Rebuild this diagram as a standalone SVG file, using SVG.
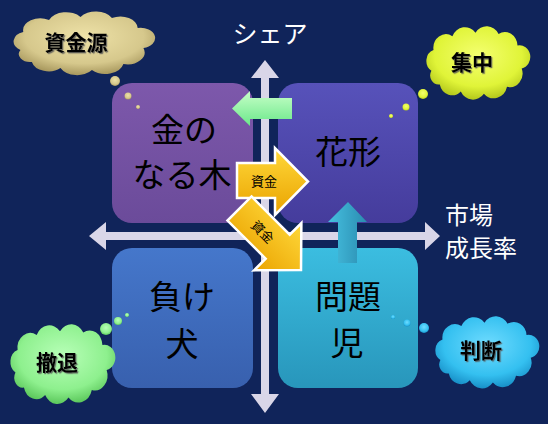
<svg xmlns="http://www.w3.org/2000/svg" width="548" height="424" viewBox="0 0 548 424">
<style>
.lbl{font-family:"Noto Sans CJK JP","Noto Sans",sans-serif;font-size:33px;fill:#000;text-anchor:middle}
.cl{font-family:"Noto Sans CJK JP","Noto Sans",sans-serif;font-size:21px;font-weight:bold;fill:#000;text-anchor:middle;filter:url(#ts)}
.ax{font-family:"Noto Sans CJK JP","Noto Sans",sans-serif;fill:#fff}
.gl{font-family:"Noto Sans CJK JP","Noto Sans",sans-serif;font-size:13px;fill:#000;text-anchor:middle}
.axis{fill:#d9d6e8}
.gold{fill:url(#gGold);stroke:#fff;stroke-width:2.5;stroke-linejoin:miter}
</style>
<defs>
<filter id="ts" x="-10%" y="-10%" width="130%" height="130%"><feDropShadow dx="1.2" dy="1.2" stdDeviation="0.6" flood-color="#555" flood-opacity="0.8"/></filter>
<path id="cloud" d="M8,38 A10,10 0 0 1 10,20 A12,12 0 0 1 28,8 A13,13 0 0 1 50,5 A13,13 0 0 1 72,6 A12,12 0 0 1 90,16 A10,10 0 0 1 94,36 A12,12 0 0 1 80,52 A13,13 0 0 1 58,58 A13,13 0 0 1 36,56 A12,12 0 0 1 16,50 A8,8 0 0 1 8,38 Z"/>
<linearGradient id="gTL" x1="0" y1="0" x2="0" y2="1"><stop offset="0" stop-color="#7d58ab"/><stop offset="1" stop-color="#6b4b9a"/></linearGradient>
<linearGradient id="gTR" x1="0" y1="0" x2="0" y2="1"><stop offset="0" stop-color="#5752ba"/><stop offset="1" stop-color="#453c9c"/></linearGradient>
<linearGradient id="gBL" x1="0" y1="0" x2="0" y2="1"><stop offset="0" stop-color="#4577cb"/><stop offset="1" stop-color="#3860ae"/></linearGradient>
<linearGradient id="gBR" x1="0" y1="0" x2="0" y2="1"><stop offset="0" stop-color="#3bbde0"/><stop offset="1" stop-color="#2896bb"/></linearGradient>
<linearGradient id="gGold" x1="0" y1="0" x2="0" y2="1"><stop offset="0" stop-color="#ffd83a"/><stop offset="1" stop-color="#eaa300"/></linearGradient>
<linearGradient id="gGreen" x1="0" y1="0" x2="0" y2="1"><stop offset="0" stop-color="#c8ffc8"/><stop offset="1" stop-color="#6ae88a"/></linearGradient>
<linearGradient id="gTeal" x1="0" y1="0" x2="1" y2="0"><stop offset="0" stop-color="#46c0e0"/><stop offset="1" stop-color="#2a8cb0"/></linearGradient>
<radialGradient id="cBeige" cx="0.5" cy="0.4" r="0.6"><stop offset="0" stop-color="#eee2a8"/><stop offset="0.7" stop-color="#d6c88c"/><stop offset="1" stop-color="#a8985e"/></radialGradient>
<radialGradient id="cYellow" cx="0.5" cy="0.4" r="0.6"><stop offset="0" stop-color="#f4ff70"/><stop offset="0.7" stop-color="#e0f438"/><stop offset="1" stop-color="#b4c81c"/></radialGradient>
<radialGradient id="cGreen" cx="0.5" cy="0.4" r="0.6"><stop offset="0" stop-color="#b8ffb8"/><stop offset="0.7" stop-color="#8ef08e"/><stop offset="1" stop-color="#5cc85c"/></radialGradient>
<radialGradient id="cCyan" cx="0.5" cy="0.4" r="0.6"><stop offset="0" stop-color="#70dcff"/><stop offset="0.7" stop-color="#34c0f0"/><stop offset="1" stop-color="#1890c8"/></radialGradient>
</defs>
<rect width="548" height="424" fill="#10245a"/>

<g id="axes">
<path class="axis" d="M265,60 L279,78 H269 V394 H279 L265,413 L251,394 H261 V78 H251 Z"/>
<path class="axis" d="M89,236 L106,222 V232 H425 V222 L440,236 L425,250 V240 H106 V250 Z"/>
<text class="ax" x="270" y="43" font-size="25" text-anchor="middle">シェア</text>
<text class="ax" x="445" y="224" font-size="24">市場</text>
<text class="ax" x="445" y="257" font-size="24">成長率</text>
</g>

<g id="node-cash-cow">
<rect x="112" y="83" width="141" height="140" rx="20" fill="url(#gTL)"/>
<text class="lbl" x="184" y="142">金の</text>
<text class="lbl" x="182" y="187">なる木</text>
</g>
<g id="node-star">
<rect x="278" y="83" width="140" height="140" rx="20" fill="url(#gTR)"/>
<text class="lbl" x="348" y="164">花形</text>
</g>
<g id="node-dog">
<rect x="112" y="248" width="141" height="140" rx="20" fill="url(#gBL)"/>
<text class="lbl" x="182" y="309">負け</text>
<text class="lbl" x="182" y="356">犬</text>
</g>
<g id="node-question">
<rect x="278" y="248" width="140" height="140" rx="20" fill="url(#gBR)"/>
<text class="lbl" x="348" y="309">問題</text>
<text class="lbl" x="347" y="355">児</text>
</g>

<g id="connectors">
<path d="M232,108.5 L250,91 V98 H292 V119 H250 V126 Z" fill="url(#gGreen)"/>
<path d="M348,202 L367,222 H357 V263 H338 V222 H328 Z" fill="url(#gTeal)"/>
<g>
<path class="gold" d="M237,163 H275 V148 L308,181.5 L275,215 V198 H237 Z"/>
<text class="gl" x="264" y="186">資金</text>
</g>
<g transform="translate(239.5,208.5) rotate(45)">
<path class="gold" d="M0,-17 H54 V-33.5 L87,0 L54,33.5 V17 H0 Z"/>
<text class="gl" x="33" y="5">資金</text>
</g>
</g>

<g id="cloud-source">
<use href="#cloud" transform="translate(9,12) scale(1.43,1)" fill="url(#cBeige)"/>
<circle cx="115" cy="81" r="5" fill="url(#cBeige)"/>
<circle cx="128" cy="96" r="3.5" fill="url(#cBeige)"/>
<circle cx="138" cy="107" r="2" fill="url(#cBeige)"/>
<text class="cl" x="76" y="50">資金源</text>
</g>
<g id="cloud-focus">
<use href="#cloud" transform="translate(423,27) scale(1.05,1.15)" fill="url(#cYellow)"/>
<circle cx="423" cy="94" r="5" fill="url(#cYellow)"/>
<circle cx="406" cy="107" r="3.5" fill="url(#cYellow)"/>
<circle cx="391" cy="116" r="2" fill="url(#cYellow)"/>
<text class="cl" x="472" y="70">集中</text>
</g>
<g id="cloud-withdraw">
<use href="#cloud" transform="translate(7,325) scale(1.06,1.25)" fill="url(#cGreen)"/>
<circle cx="106" cy="329" r="6" fill="url(#cGreen)"/>
<circle cx="118" cy="321" r="4" fill="url(#cGreen)"/>
<circle cx="127" cy="315" r="2" fill="url(#cGreen)"/>
<text class="cl" x="57" y="370">撤退</text>
</g>
<g id="cloud-judge">
<use href="#cloud" transform="translate(432,317) scale(1.05,1.13)" fill="url(#cCyan)"/>
<circle cx="424" cy="328" r="5" fill="url(#cCyan)"/>
<circle cx="407" cy="323" r="3.5" fill="url(#cCyan)"/>
<circle cx="393" cy="317" r="2" fill="url(#cCyan)"/>
<text class="cl" x="481" y="358">判断</text>
</g>
</svg>
